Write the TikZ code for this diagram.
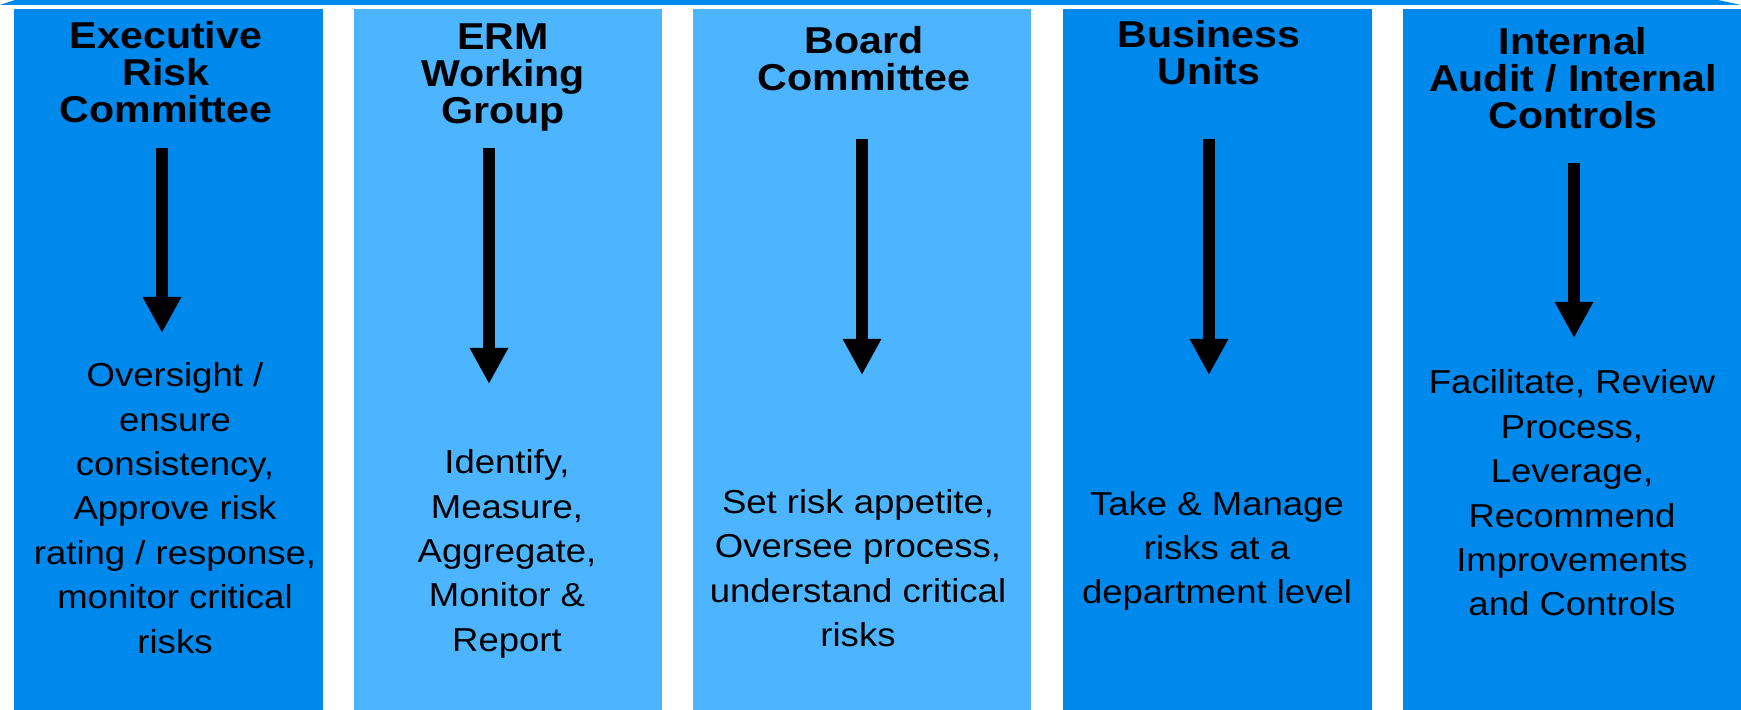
\documentclass[tikz,border=0pt]{standalone}
\usepackage{fontspec}
\setmainfont{Liberation Sans}[FakeStretch=1.1]
\usetikzlibrary{arrows.meta}
\definecolor{deepblue}{RGB}{0,137,236}
\definecolor{paleblue}{RGB}{77,180,255}
\tikzset{hd/.style={font=\fontsize{18.7}{18.5}\selectfont\bfseries, align=center, inner sep=0pt}}
\tikzset{bd/.style={font=\fontsize{16.6}{22.2}\selectfont, align=center, inner sep=0pt}}
\tikzset{down/.style={line width=6pt, -{Triangle[width=18pt,length=18pt]}}}

\begin{document}
\begin{tikzpicture}[x=0.5pt,y=-0.5pt]
          \useasboundingbox (0,0) rectangle (1741,710);
          % thin band along the top
          \fill[deepblue] (0,5)--(15,0)--(1718,0)--(1741,5)--cycle;
          % the five columns
          \fill[deepblue] (14,9) rectangle (323,710);
          \fill[paleblue] (354,9) rectangle (662,710);
          \fill[paleblue] (693,9) rectangle (1031,710);
          \fill[deepblue] (1063,9) rectangle (1372,710);
          \fill[deepblue] (1403,9) rectangle (1741,710);
          % headings
          \node[hd] (erc) at (166,72) {Executive\\Risk\\Committee};
          \node[hd] (erm) at (503,78) {ERM\\Working\\Group};
          \node[hd] (brd) at (864,59) {Board\\Committee};
          \node[hd] (bus) at (1209,53) {Business\\Units};
          \node[hd] (aud) at (1573,78) {Internal\\Audit / Internal\\Controls};
          % duties
          \node[bd] (ercD) at (175,508) {Oversight /\\ensure\\consistency,\\Approve risk\\rating / response,\\monitor critical\\risks};
          \node[bd] (ermD) at (507,554) {Identify,\\Measure,\\Aggregate,\\Monitor \&\\Report};
          \node[bd] (brdD) at (858,568) {Set risk appetite,\\Oversee process,\\understand critical\\risks};
          \node[bd] (busD) at (1217,551) {Take \& Manage\\risks at a\\department level};
          \node[bd] (audD) at (1572,493) {Facilitate, Review\\Process,\\Leverage,\\Recommend\\Improvements\\and Controls};
          % arrows
          \coordinate (erc1) at (162,148); \coordinate (erc2) at (162,333);
          \coordinate (erm1) at (489,148); \coordinate (erm2) at (489,384);
          \coordinate (brd1) at (862,139); \coordinate (brd2) at (862,375);
          \coordinate (bus1) at (1209,139); \coordinate (bus2) at (1209,375);
          \coordinate (aud1) at (1574,163); \coordinate (aud2) at (1574,338);
          \draw[down] (erc1) -- (erc2);
          \draw[down] (erm1) -- (erm2);
          \draw[down] (brd1) -- (brd2);
          \draw[down] (bus1) -- (bus2);
          \draw[down] (aud1) -- (aud2);
        \end{tikzpicture}
\end{document}
